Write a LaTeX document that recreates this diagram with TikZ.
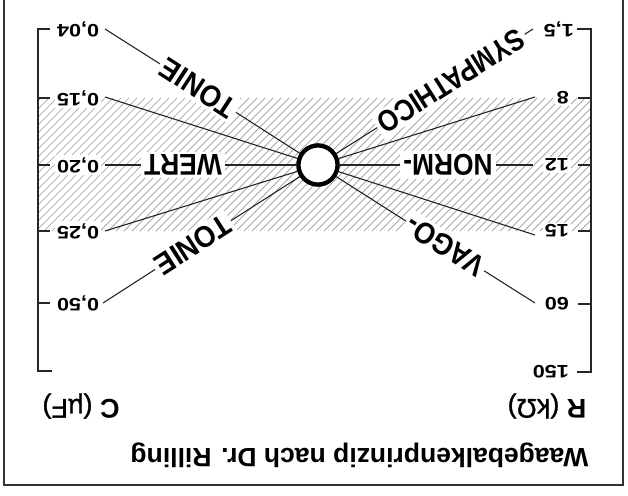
\documentclass[tikz,border=0pt]{standalone}
\usepackage{fontspec}
\setmainfont{Liberation Sans}
\newfontfamily\unitfont[FakeBold=1.2]{Liberation Sans}
\usepackage{graphicx}
\newcommand\upsd[1]{\rotatebox{180}{#1}}
\newcommand\tickfont{\bfseries\fontsize{18}{18}\selectfont}
\newcommand\bigfont{\bfseries\fontsize{30}{30}\selectfont}
\begin{document}
\begin{tikzpicture}[x=1pt,y=-1pt,
  frame/.style={draw=black!80, line width=2.5pt},
  scaleline/.style={line width=1.6pt, draw=black!85},
  ray/.style={line width=1.1pt, draw=black!85},
  hatchline/.style={draw=gray!80, line width=0.7pt},
  ticklbl/.style={font=\tickfont, inner sep=2pt, fill=white},
  biglbl/.style={font=\bigfont, inner sep=3pt, fill=white},
  axislbl/.style={font=\fontsize{27}{27}\selectfont, inner sep=0pt},
  hubstyle/.style={circle, draw=black, fill=white, line width=4.2pt, minimum size=39pt, inner sep=0pt}
]
\useasboundingbox (0,0) rectangle (628,495);
\fill[white] (0,0) rectangle (628,495);
\draw[frame] (4,-10) rectangle (623,485);

% hatched band
\begin{scope}
  \clip (38,98) rectangle (591,231);
  \foreach \x in {-140,-132,...,600} {
    \draw[hatchline] (\x,231) -- (\x+133,98);
  }
\end{scope}

% scales
\draw[scaleline] (50,29) -- (38,29) -- (38,371) -- (52,371);
\foreach \y in {98,165,231,303} { \draw[scaleline] (38,\y) -- (50,\y); }
\draw[scaleline] (577,29) -- (591,29) -- (591,372) -- (577,372);
\foreach \y in {98,165,231,304} { \draw[scaleline] (591,\y) -- (578,\y); }

% C labels
\node[ticklbl, anchor=west] (c004) at (55,29)  {\upsd{\scalebox{1.2}[1]{0,04}}};
\node[ticklbl, anchor=west] (c015) at (55,98)  {\upsd{\scalebox{1.2}[1]{0,15}}};
\node[ticklbl, anchor=west] (c020) at (55,165) {\upsd{\scalebox{1.2}[1]{0,20}}};
\node[ticklbl, anchor=west] (c025) at (55,231) {\upsd{\scalebox{1.2}[1]{0,25}}};
\node[ticklbl, anchor=west] (c050) at (55,303) {\upsd{\scalebox{1.2}[1]{0,50}}};
% R labels
\node[ticklbl, anchor=east] (r1)   at (576,29)  {\upsd{\scalebox{1.2}[1]{1,5}}};
\node[ticklbl, anchor=east] (r8)   at (571,98)  {\upsd{\scalebox{1.2}[1]{8}}};
\node[ticklbl, anchor=east] (r12)  at (571,165) {\upsd{\scalebox{1.2}[1]{12}}};
\node[ticklbl, anchor=east] (r15)  at (571,231) {\upsd{\scalebox{1.2}[1]{15}}};
\node[ticklbl, anchor=east] (r60)  at (571,304) {\upsd{\scalebox{1.2}[1]{60}}};
\node[ticklbl, anchor=east] (r150) at (571,372) {\upsd{\scalebox{1.2}[1]{150}}};

% ray start points
\coordinate (p004) at (105,29);
\coordinate (p015) at (105,97);
\coordinate (p020) at (105,165);
\coordinate (p025) at (105,231);
\coordinate (p050) at (103,303);
\coordinate (q1)   at (533,29);
\coordinate (q8)   at (535,97);
\coordinate (q12)  at (533,165);
\coordinate (q15)  at (535,235);
\coordinate (q60)  at (535,303);

% hub
\node[hubstyle] (hub) at (318,165) {};

% big labels
\node[biglbl, rotate=147.1] (tA) at (198,88)  {\scalebox{0.92}[1]{TONIE}};
\node[biglbl, rotate=180]   (tB) at (183,165) {\scalebox{0.88}[1]{WERT}};
\node[biglbl, rotate=212.7] (tC) at (193,245) {\scalebox{0.92}[1]{TONIE}};
\node[biglbl, rotate=212.3] (tD) at (451,81)  {\scalebox{0.86}[1]{SYMPATHICO}};
\node[biglbl, rotate=180]   (tE) at (448,165) {\scalebox{0.88}[1]{NORM-}};
\node[biglbl, rotate=147.5] (tF) at (445,246) {\scalebox{0.9}[1]{VAGO-}};

% rays
\draw[ray] (p004) -- (tA) (tA) -- (hub);
\draw[ray] (p015) -- (hub);
\draw[ray] (p020) -- (tB) (tB) -- (hub);
\draw[ray] (p025) -- (hub);
\draw[ray] (p050) -- (tC) (tC) -- (hub);
\draw[ray] (q1) -- (tD) (tD) -- (hub);
\draw[ray] (q8) -- (hub);
\draw[ray] (q12) -- (tE) (tE) -- (hub);
\draw[ray] (q15) -- (hub);
\draw[ray] (q60) -- (tF) (tF) -- (hub);
\node[hubstyle] at (hub) {};

% axis labels and title
\node[axislbl] (cunit) at (81,406)  {\upsd{\textbf{C} {\unitfont(µF)}}};
\node[axislbl] (runit) at (547,406) {\upsd{\textbf{R} {\unitfont(kΩ)}}};
\node[inner sep=0pt, font=\bfseries\fontsize{26.5}{26.5}\selectfont] (title) at (359.5,455.5) {\upsd{Waagebalkenprinzip nach Dr. Rilling}};
\end{tikzpicture}
\end{document}
